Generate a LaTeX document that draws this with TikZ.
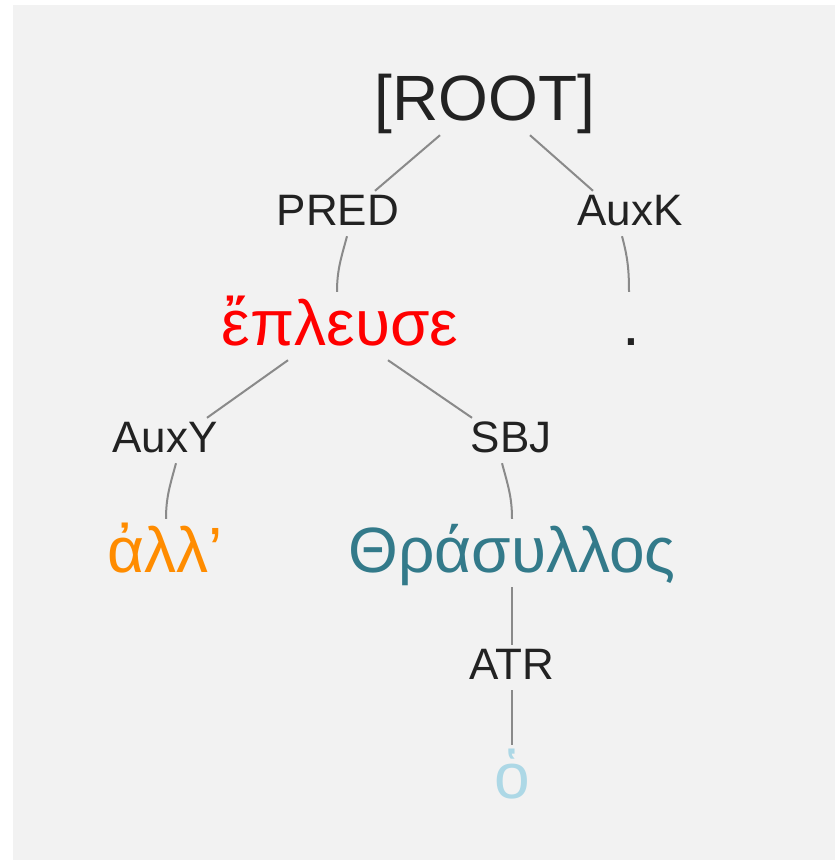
\documentclass[tikz,border=0pt]{standalone}
\usepackage{fontspec}
\setmainfont{Liberation Sans}
\definecolor{bgc}{HTML}{F2F2F2}
\definecolor{txt}{HTML}{222222}
\definecolor{edgec}{HTML}{8A8A8A}
\definecolor{wred}{HTML}{FF0000}
\definecolor{worange}{HTML}{FF8C00}
\definecolor{wteal}{HTML}{337A8A}
\definecolor{wlblue}{HTML}{ADD8E6}
\tikzset{
  word/.style={anchor=base, inner sep=3pt, text height=50pt, text depth=12pt, font=\fontsize{64}{70}\selectfont},
  rootnode/.style={anchor=base, inner sep=3pt, text height=50pt, text depth=12pt, font=\fontsize{64}{70}\selectfont, text=txt},
  lab/.style={anchor=base, inner sep=3pt, text height=31pt, text depth=8pt, font=\fontsize{44}{50}\selectfont, text=txt},
  edge/.style={draw=edgec, line width=2pt}
}
\begin{document}
\begin{tikzpicture}[x=1pt,y=1pt]
\fill[white] (0,0) rectangle (835,-860);
\fill[bgc] (13,-5) rectangle (835,-860);
\useasboundingbox (0,0) rectangle (835,-860);
% nodes
\node[rootnode] (root) at (485,-120) {[ROOT]};
\node[lab] (pred) at (338,-225) {PRED};
\node[lab] (auxk) at (630,-225) {AuxK};
\node[word, text=wred] (eplu) at (340,-345) {ἔπλευσε};
\node[word, text=txt] (dot) at (631,-345) {.};
\node[lab] (auxy) at (165,-452) {AuxY};
\node[lab] (sbj) at (511,-452) {SBJ};
\node[word, text=worange] (all) at (165,-572) {ἀλλ’};
\node[word, text=wteal] (thra) at (512,-572) {Θράσυλλος};
\node[lab] (atr) at (512,-679) {ATR};
\node[word, text=wlblue] (ho) at (512,-798) {ὁ};
% edges
\draw[edge] ([xshift=-45pt]root.south) -- ([xshift=37pt]pred.north);
\draw[edge] ([xshift=45pt]root.south) -- ([xshift=-37pt]auxk.north);
\draw[edge] ([xshift=9pt]pred.south) to[out=-105,in=90] ([xshift=-3pt]eplu.north);
\draw[edge] ([xshift=-8pt]auxk.south) to[out=-75,in=90] ([xshift=-2pt]dot.north);
\draw[edge] ([xshift=-52pt]eplu.south) -- ([xshift=42pt]auxy.north);
\draw[edge] ([xshift=48pt]eplu.south) -- ([xshift=-39pt]sbj.north);
\draw[edge] ([xshift=11pt]auxy.south) to[out=-105,in=90] ([xshift=1pt]all.north);
\draw[edge] ([xshift=-9pt]sbj.south) to[out=-75,in=90] (thra.north);
\draw[edge] (thra.south) -- (atr.north);
\draw[edge] (atr.south) -- (ho.north);
\end{tikzpicture}
\end{document}
